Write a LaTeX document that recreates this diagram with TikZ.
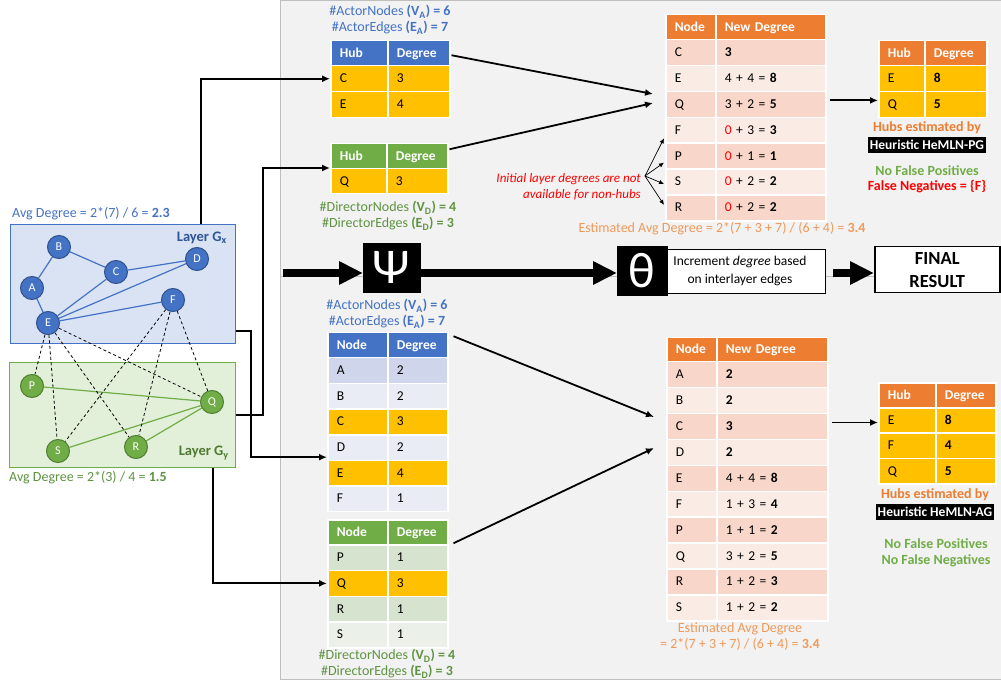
\documentclass[tikz,border=0pt]{standalone}
\usepackage{fontspec}
\setmainfont{Carlito}
\usetikzlibrary{arrows.meta,calc}

\definecolor{hdBlue}{HTML}{4472C4}
\definecolor{hdGreen}{HTML}{70AD47}
\definecolor{hdOrange}{HTML}{ED7D31}
\definecolor{hub}{HTML}{FFC000}
\definecolor{bBandA}{HTML}{CFD5EA}
\definecolor{bBandB}{HTML}{E9EBF5}
\definecolor{gBandA}{HTML}{D5E3CF}
\definecolor{gBandB}{HTML}{EBF1E9}
\definecolor{oBandA}{HTML}{F8D6C9}
\definecolor{oBandB}{HTML}{FBEBE5}
\definecolor{txtBlue}{HTML}{4472C4}
\definecolor{txtBlueDk}{HTML}{2F5597}
\definecolor{txtGreen}{HTML}{5F9341}
\definecolor{txtGreenDk}{HTML}{4E7A30}
\definecolor{okGreen}{HTML}{70AD47}
\definecolor{txtOrange}{HTML}{ED7D31}
\definecolor{estOrange}{HTML}{F0995A}
\definecolor{panelFill}{HTML}{F2F2F2}
\definecolor{panelLine}{HTML}{BFBFBF}
\definecolor{gxFill}{HTML}{DAE3F3}
\definecolor{gyFill}{HTML}{E2F0D9}
\definecolor{bNodeLine}{HTML}{2F528F}
\definecolor{gNodeLine}{HTML}{507E32}

\newcommand\fsz[2]{\fontsize{#1}{#2}\selectfont}
\newcommand\hd{\color{white}\bfseries}
\newcommand\zr{\textcolor{red}{0}}
% one table row: name, x left, x split, x right, y top, height, fill, left text, right text
\newcommand\tabrow[9]{%
  \pgfmathsetmacro\wA{#3-#2-18}%
  \pgfmathsetmacro\wB{#4-#3-18}%
  \node[cell,fill=#7,minimum height=#6pt,text width=\wA pt] (#1a) at (#2,#5) {#8};
  \node[cell,fill=#7,minimum height=#6pt,text width=\wB pt] (#1b) at (#3,#5) {#9};}

\begin{document}
\begin{tikzpicture}[x=1pt,y=-1pt,
  cell/.style={draw=white, line width=1.5pt, anchor=north west, inner xsep=9pt,
    inner ysep=0pt, align=left, text height=10pt, text depth=2pt, font={\fsz{13.5}{16}}},
  lbl/.style={inner sep=0pt, align=center, font={\fsz{14}{16}}},
  bnode/.style={circle, fill=hdBlue, draw=bNodeLine, line width=1pt, minimum size=23pt,
    inner sep=0pt, text=white, font={\fsz{12}{14}}},
  gnode/.style={circle, fill=hdGreen, draw=gNodeLine, line width=1pt, minimum size=23pt,
    inner sep=0pt, text=white, font={\fsz{12}{14}}},
  bedge/.style={draw=hdBlue, line width=1.2pt},
  gedge/.style={draw=hdGreen, line width=1.2pt},
  iedge/.style={draw=black, line width=0.8pt, dash pattern=on 3pt off 2.5pt},
  arr/.style={draw=black, line width=1.8pt, -{Latex[length=8pt,width=7pt]}},
  notearr/.style={draw=black, line width=0.7pt, -{Latex[length=5pt,width=4.5pt]}},
  bigarr/.style={draw=black, line width=8pt, -{Triangle[length=24pt,width=22pt]}},
  blk/.style={fill=black, draw=black, anchor=north west, inner sep=0pt},
  panel/.style={fill=panelFill, draw=panelLine, line width=1pt},
  tag/.style={fill=black, text=white, inner sep=0pt, minimum height=16pt, font={\fsz{13.5}{16}\bfseries}}
]
\useasboundingbox (0,0) rectangle (1001,684);
\fill[white] (0,0) rectangle (1001,684);

% working panels
\draw[panel] (280,1) rectangle (1004,277);
\draw[panel] (280,277) rectangle (1004,679);

% ---------------- the two-layer network ----------------
\node[draw=hdBlue, fill=gxFill, line width=1.2pt, minimum width=225pt, minimum height=119pt,
  anchor=north west, inner sep=0pt] (gx) at (10,224) {};
\node[draw=hdGreen, fill=gyFill, line width=1.2pt, minimum width=226pt, minimum height=105pt,
  anchor=north west, inner sep=0pt] (gy) at (9,362) {};

\node[bnode] (a) at (32,288) {A};
\node[bnode] (b) at (59,247) {B};
\node[bnode] (c) at (116,272) {C};
\node[bnode] (d) at (197,259) {D};
\node[bnode] (e) at (48,323) {E};
\node[bnode] (f) at (173,300) {F};
\node[gnode] (p) at (32,386) {P};
\node[gnode] (q) at (212,402) {Q};
\node[gnode] (r) at (136,447) {R};
\node[gnode] (s) at (58,451) {S};

\draw[bedge] (a) -- (b);
\draw[bedge] (b) -- (c);
\draw[bedge] (c) -- (d);
\draw[bedge] (a) -- (e);
\draw[bedge] (e) -- (c);
\draw[bedge] (e) -- (d);
\draw[bedge] (e) -- (f);
\draw[gedge] (p) -- (q);
\draw[gedge] (s) -- (q);
\draw[gedge] (r) -- (q);
\draw[iedge] (e) -- (p);
\draw[iedge] (e) -- (s);
\draw[iedge] (e) -- (r);
\draw[iedge] (e) -- (q);
\draw[iedge] (f) -- (s);
\draw[iedge] (f) -- (r);
\draw[iedge] (f) -- (q);

\node[lbl, text=txtBlue, anchor=west] (avgx) at (12,214) {Avg Degree = 2*(7) / 6 = \textbf{2.3}};
\node[lbl, text=txtGreen, anchor=west] (avgy) at (9,478) {Avg Degree = 2*(3) / 4 = \textbf{1.5}};
\node[lbl, text=txtBlueDk, anchor=east, font={\fsz{14.5}{17}\bfseries}] (lgx) at (227,238) {Layer G\textsubscript{x}};
\node[lbl, text=txtGreenDk, anchor=east, font={\fsz{14.5}{17}\bfseries}] (lgy) at (229,453) {Layer G\textsubscript{y}};

% ---------------- upper branch: hub tables ----------------
\tabrow{t1h}{330}{387}{449}{40}{25}{hdBlue}{\hd Hub}{\hd Degree}
\tabrow{t1r1}{330}{387}{449}{65}{26}{hub}{C}{3}
\tabrow{t1r2}{330}{387}{449}{91}{26}{hub}{E}{4}
\node[lbl, text=txtBlue] (t1cap) at (390,20) {\#ActorNodes \textbf{(V\textsubscript{A}) = 6}\\\#ActorEdges \textbf{(E\textsubscript{A}) = 7}};

\tabrow{t2h}{330}{386}{447}{143}{25}{hdGreen}{\hd Hub}{\hd Degree}
\tabrow{t2r1}{330}{386}{447}{168}{25}{hub}{Q}{3}
\node[lbl, text=txtGreen] (t2cap) at (388,216) {\#DirectorNodes \textbf{(V\textsubscript{D}) = 4}\\\#DirectorEdges \textbf{(E\textsubscript{D}) = 3}};

\tabrow{t5h}{665}{715}{825}{14}{25}{hdOrange}{\hd Node}{\hd New Degree}
\tabrow{t5r1}{665}{715}{825}{39}{25.9}{oBandA}{C}{\textbf{3}}
\tabrow{t5r2}{665}{715}{825}{64.9}{25.9}{oBandB}{E}{4 + 4 = \textbf{8}}
\tabrow{t5r3}{665}{715}{825}{90.7}{25.9}{oBandA}{Q}{3 + 2 = \textbf{5}}
\tabrow{t5r4}{665}{715}{825}{116.6}{25.9}{oBandB}{F}{\zr{} + 3 = \textbf{3}}
\tabrow{t5r5}{665}{715}{825}{142.4}{25.9}{oBandA}{P}{\zr{} + 1 = \textbf{1}}
\tabrow{t5r6}{665}{715}{825}{168.3}{25.9}{oBandB}{S}{\zr{} + 2 = \textbf{2}}
\tabrow{t5r7}{665}{715}{825}{194.2}{25.9}{oBandA}{R}{\zr{} + 2 = \textbf{2}}
\node[lbl, text=estOrange] (t5cap) at (722,229) {Estimated Avg Degree = 2*(7 + 3 + 7) / (6 + 4) = \textbf{3.4}};

\node[lbl, text=red, anchor=east, align=right, font={\fsz{13}{16}\itshape}] (note) at (641,187)
  {Initial layer degrees are not\\available for non-hubs};
\coordinate (nt) at (645,176);
\draw[notearr] (nt) -- ([xshift=-1pt,yshift=-8pt]t5r4a.west);
\draw[notearr] (nt) -- ([xshift=-1pt,yshift=-6.5pt]t5r5a.west);
\draw[notearr] (nt) -- ([xshift=-1pt,yshift=-2pt]t5r6a.west);
\draw[notearr] (nt) -- ([xshift=-1pt,yshift=3pt]t5r7a.west);

\tabrow{t6h}{878}{924}{986}{40}{25}{hdOrange}{\hd Hub}{\hd Degree}
\tabrow{t6r1}{878}{924}{986}{65}{26}{hub}{E}{\textbf{8}}
\tabrow{t6r2}{878}{924}{986}{91}{26}{hub}{Q}{\textbf{5}}
\node[lbl, text=txtOrange, font={\fsz{14}{16}\bfseries}] (t6cap) at (927,128) {Hubs estimated by};
\node[tag, minimum width=118pt] (t6tag) at (927,145) {Heuristic HeMLN-PG};
\node[lbl, text=okGreen, font={\fsz{14}{16}\bfseries}] (t6ok) at (927,171) {No False Positives};
\node[lbl, text=red, font={\fsz{14}{16}\bfseries}] (t6bad) at (927,187) {False Negatives = \{F\}};

% ---------------- lower branch: full degree tables ----------------
\tabrow{t3h}{327}{387}{447}{332}{25}{hdBlue}{\hd Node}{\hd Degree}
\tabrow{t3r1}{327}{387}{447}{357}{25.67}{bBandA}{A}{2}
\tabrow{t3r2}{327}{387}{447}{382.7}{25.67}{bBandB}{B}{2}
\tabrow{t3r3}{327}{387}{447}{408.3}{25.67}{hub}{C}{3}
\tabrow{t3r4}{327}{387}{447}{434}{25.67}{bBandB}{D}{2}
\tabrow{t3r5}{327}{387}{447}{459.7}{25.67}{hub}{E}{4}
\tabrow{t3r6}{327}{387}{447}{485.3}{25.67}{bBandB}{F}{1}
\node[lbl, text=txtBlue] (t3cap) at (387,314) {\#ActorNodes \textbf{(V\textsubscript{A}) = 6}\\\#ActorEdges \textbf{(E\textsubscript{A}) = 7}};

\tabrow{t4h}{327}{387}{447}{519}{25}{hdGreen}{\hd Node}{\hd Degree}
\tabrow{t4r1}{327}{387}{447}{544}{25.75}{gBandA}{P}{1}
\tabrow{t4r2}{327}{387}{447}{569.75}{25.75}{hub}{Q}{3}
\tabrow{t4r3}{327}{387}{447}{595.5}{25.75}{gBandA}{R}{1}
\tabrow{t4r4}{327}{387}{447}{621.25}{25.75}{gBandB}{S}{1}
\node[lbl, text=txtGreen] (t4cap) at (387,664) {\#DirectorNodes \textbf{(V\textsubscript{D}) = 4}\\\#DirectorEdges \textbf{(E\textsubscript{D}) = 3}};

\tabrow{t7h}{666}{716}{827}{337}{24}{hdOrange}{\hd Node}{\hd New Degree}
\tabrow{t7r1}{666}{716}{827}{361}{25.9}{oBandA}{A}{\textbf{2}}
\tabrow{t7r2}{666}{716}{827}{386.9}{25.9}{oBandB}{B}{\textbf{2}}
\tabrow{t7r3}{666}{716}{827}{412.8}{25.9}{oBandA}{C}{\textbf{3}}
\tabrow{t7r4}{666}{716}{827}{438.7}{25.9}{oBandB}{D}{\textbf{2}}
\tabrow{t7r5}{666}{716}{827}{464.6}{25.9}{oBandA}{E}{4 + 4 = \textbf{8}}
\tabrow{t7r6}{666}{716}{827}{490.5}{25.9}{oBandB}{F}{1 + 3 = \textbf{4}}
\tabrow{t7r7}{666}{716}{827}{516.4}{25.9}{oBandA}{P}{1 + 1 = \textbf{2}}
\tabrow{t7r8}{666}{716}{827}{542.3}{25.9}{oBandB}{Q}{3 + 2 = \textbf{5}}
\tabrow{t7r9}{666}{716}{827}{568.2}{25.9}{oBandA}{R}{1 + 2 = \textbf{3}}
\tabrow{t7r10}{666}{716}{827}{594.1}{25.9}{oBandB}{S}{1 + 2 = \textbf{2}}
\node[lbl, text=estOrange] (t7cap) at (740,637) {Estimated Avg Degree\\= 2*(7 + 3 + 7) / (6 + 4) = \textbf{3.4}};

\tabrow{t8h}{878}{935}{995}{382}{25}{hdOrange}{\hd Hub}{\hd Degree}
\tabrow{t8r1}{878}{935}{995}{407}{25.33}{hub}{E}{\textbf{8}}
\tabrow{t8r2}{878}{935}{995}{432.3}{25.33}{hub}{F}{\textbf{4}}
\tabrow{t8r3}{878}{935}{995}{457.7}{25.33}{hub}{Q}{\textbf{5}}
\node[lbl, text=txtOrange, font={\fsz{14}{16}\bfseries}] (t8cap) at (935,495) {Hubs estimated by};
\node[tag, minimum width=118pt] (t8tag) at (935,512) {Heuristic HeMLN-AG};
\node[lbl, text=okGreen, font={\fsz{14}{16}\bfseries}, align=center] (t8ok) at (936,553) {No False Positives\\No False Negatives};

% ---------------- pipeline row ----------------
\node[blk, minimum width=57pt, minimum height=49pt] (psi) at (363,243) {};
\node[text=white, inner sep=0pt, font={\fsz{50}{50}}] (psig) at (psi.center) {Ψ};
\node[blk, minimum width=50pt, minimum height=49pt] (theta) at (617,246) {};
\node[text=white, inner sep=0pt, font={\fsz{50}{50}}] (thetag) at (theta.center) {θ};
\node[draw=black, fill=white, line width=1.2pt, anchor=north west, minimum width=158pt,
  minimum height=44pt, inner sep=0pt] (thetxt) at (667,249) {};
\node[inner sep=0pt, align=center, font={\fsz{13.5}{18}}] (thetxtl) at (740,271)
  {Increment \emph{degree} based\\on interlayer edges};
\node[draw=black, fill=white, line width=1.5pt, anchor=north west, minimum width=125pt,
  minimum height=46pt, inner sep=0pt, align=center, font={\fsz{18.5}{23}\bfseries}] (final) at (874,246)
  {FINAL\\RESULT};

\coordinate (m0) at (283,273);
\draw[bigarr] (m0) -- (m0 -| psi.west);
\draw[bigarr] (psi.east |- m0) -- (theta.west |- m0);
\draw[bigarr] ($(thetxt.east |- m0)+(7,0)$) -- (final.west |- m0);

% ---------------- connectors ----------------
\draw[arr] ([xshift=77.5pt]gx.north) |- (t1r1a.west);
\draw[arr] (gy.east) -- ++(27,0) |- (t2r1a.north west);
\draw[arr] ([yshift=13pt]gx.south east) -- ++(15,0) |- ([yshift=4pt]t3r4a.south west);
\draw[arr] ([xshift=90pt]gy.south) |- (t4r2a.west);

\coordinate (in5a) at (653,94);
\coordinate (in5b) at (653,103);
\draw[arr] ([xshift=1pt,yshift=-2pt]t1hb.east) -- (in5a);
\draw[arr] ([xshift=1pt,yshift=7pt]t2hb.east) -- (in5b);
\draw[arr] ([xshift=3pt,yshift=4pt]t5r3b.east) -- ([yshift=4pt]t5r3b.east -| t6r2a.west);

\coordinate (in7a) at (654,417);
\coordinate (in7b) at (654,448);
\draw[arr] ([xshift=5pt,yshift=9pt]t3hb.east) -- (in7a);
\draw[arr] ([xshift=5pt,yshift=-11pt]t4hb.east) -- (in7b);
\draw[arr] ([xshift=3pt,yshift=4pt]t7r3b.east) -- ([yshift=4pt]t7r3b.east -| t8r1a.west);
\end{tikzpicture}
\end{document}
